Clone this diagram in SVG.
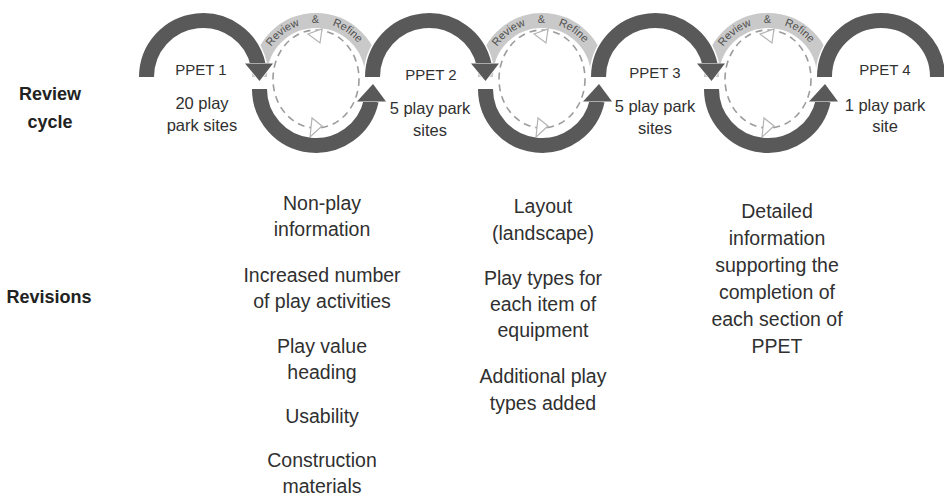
<svg xmlns="http://www.w3.org/2000/svg" xmlns:xlink="http://www.w3.org/1999/xlink" width="944" height="499" viewBox="0 0 944 499">
<defs>
<style>
text{font-family:"Liberation Sans",Arial,sans-serif;fill:#303030;text-anchor:middle}
.lbl{font-size:18px;font-weight:bold;fill:#222}
.ppet{font-size:15px}
.site{font-size:16.5px}
.rev{font-size:19.5px}
.rr{font-size:11px;fill:#505050}
.light{fill:none;stroke:#c9c9c9;stroke-width:15}
.dash{fill:none;stroke:#9c9c9c;stroke-width:1.6;stroke-dasharray:7 5}
.tri{fill:#fff;stroke:#b3b3b3;stroke-width:1.2}
.case{fill:none;stroke:#fff;stroke-width:18}
.arc{fill:none;stroke:#595959;stroke-width:15}
.head{fill:#595959;stroke:#fff;stroke-width:1.2;paint-order:stroke}
</style>
<path id="rrpath" d="M -54 77 A 54 54 0 0 1 54 77"/>
</defs>
<rect width="944" height="499" fill="#fff"/>

<g id="review-loop-1" transform="translate(316,0)">
<path class="light" d="M -56.5 77 A 56.5 56.5 0 0 1 56.5 77"/>
<ellipse class="dash" cx="0" cy="79" rx="43" ry="49"/>
<polygon class="tri" points="-8,34 6,29 4,43"/>
<polygon class="tri" points="6,126 -4,118 -6,137"/>
<text class="rr"><textPath href="#rrpath" xlink:href="#rrpath" startOffset="50">Review</textPath></text>
<text class="rr"><textPath href="#rrpath" xlink:href="#rrpath" startOffset="84">&amp;</textPath></text>
<text class="rr"><textPath href="#rrpath" xlink:href="#rrpath" startOffset="117">Refine</textPath></text>
</g>
<g id="review-loop-2" transform="translate(542,0)">
<path class="light" d="M -56.5 77 A 56.5 56.5 0 0 1 56.5 77"/>
<ellipse class="dash" cx="0" cy="79" rx="43" ry="49"/>
<polygon class="tri" points="-8,34 6,29 4,43"/>
<polygon class="tri" points="6,126 -4,118 -6,137"/>
<text class="rr"><textPath href="#rrpath" xlink:href="#rrpath" startOffset="50">Review</textPath></text>
<text class="rr"><textPath href="#rrpath" xlink:href="#rrpath" startOffset="84">&amp;</textPath></text>
<text class="rr"><textPath href="#rrpath" xlink:href="#rrpath" startOffset="117">Refine</textPath></text>
</g>
<g id="review-loop-3" transform="translate(768,0)">
<path class="light" d="M -56.5 77 A 56.5 56.5 0 0 1 56.5 77"/>
<ellipse class="dash" cx="0" cy="79" rx="43" ry="49"/>
<polygon class="tri" points="-8,34 6,29 4,43"/>
<polygon class="tri" points="6,126 -4,118 -6,137"/>
<text class="rr"><textPath href="#rrpath" xlink:href="#rrpath" startOffset="50">Review</textPath></text>
<text class="rr"><textPath href="#rrpath" xlink:href="#rrpath" startOffset="84">&amp;</textPath></text>
<text class="rr"><textPath href="#rrpath" xlink:href="#rrpath" startOffset="117">Refine</textPath></text>
</g>

<g id="connectors">
<path class="case" d="M 146.5 77 A 56.5 56.5 0 0 1 258.2 65"/>
<path class="case" d="M 372.5 77 A 56.5 56.5 0 0 1 484.2 65"/>
<path class="case" d="M 598.5 77 A 56.5 56.5 0 0 1 710.2 65"/>
<path class="case" d="M 824.5 77 A 56.5 56.5 0 0 1 937.5 77"/>
<path class="arc" d="M 146.5 77 A 56.5 56.5 0 0 1 258.2 65"/>
<path class="arc" d="M 372.5 77 A 56.5 56.5 0 0 1 484.2 65"/>
<path class="arc" d="M 598.5 77 A 56.5 56.5 0 0 1 710.2 65"/>
<path class="arc" d="M 824.5 77 A 56.5 56.5 0 0 1 937.5 77"/>
<polygon class="head" points="245,63.5 273,63.5 259.5,81"/>
<polygon class="head" points="471,63.5 499,63.5 485.5,81"/>
<polygon class="head" points="697,63.5 725,63.5 711.5,81"/>
<path class="arc" d="M 259.5 89 A 56.5 56.5 0 0 0 371.2 101"/>
<path class="arc" d="M 485.5 89 A 56.5 56.5 0 0 0 597.2 101"/>
<path class="arc" d="M 711.5 89 A 56.5 56.5 0 0 0 823.2 101"/>
<polygon class="head" points="357,101.5 386,101.5 373,84"/>
<polygon class="head" points="583,101.5 612,101.5 599,84"/>
<polygon class="head" points="809,101.5 838,101.5 825,84"/>
</g>

<g id="ppet1">
<text class="ppet" x="201" y="75">PPET 1</text>
<text class="site" x="202" y="109">20 play</text>
<text class="site" x="202" y="131">park sites</text>
</g>
<g id="ppet2">
<text class="ppet" x="431" y="80">PPET 2</text>
<text class="site" x="430" y="114">5 play park</text>
<text class="site" x="430" y="136">sites</text>
</g>
<g id="ppet3">
<text class="ppet" x="655" y="78">PPET 3</text>
<text class="site" x="655" y="112">5 play park</text>
<text class="site" x="655" y="134">sites</text>
</g>
<g id="ppet4">
<text class="ppet" x="885" y="75">PPET 4</text>
<text class="site" x="885" y="111">1 play park</text>
<text class="site" x="885" y="132">site</text>
</g>

<g id="row-labels">
<text class="lbl" x="50" y="100">Review</text>
<text class="lbl" x="50" y="128">cycle</text>
<text class="lbl" x="49" y="303">Revisions</text>
</g>

<g id="revisions-1">
<text class="rev" x="322" y="210">Non-play</text>
<text class="rev" x="322" y="236">information</text>
<text class="rev" x="322" y="282">Increased number</text>
<text class="rev" x="322" y="308">of play activities</text>
<text class="rev" x="322" y="353">Play value</text>
<text class="rev" x="322" y="379">heading</text>
<text class="rev" x="322" y="423">Usability</text>
<text class="rev" x="322" y="467">Construction</text>
<text class="rev" x="322" y="493">materials</text>
</g>
<g id="revisions-2">
<text class="rev" x="543" y="213">Layout</text>
<text class="rev" x="543" y="240">(landscape)</text>
<text class="rev" x="543" y="285">Play types for</text>
<text class="rev" x="543" y="311">each item of</text>
<text class="rev" x="543" y="337">equipment</text>
<text class="rev" x="543" y="383">Additional play</text>
<text class="rev" x="543" y="410">types added</text>
</g>
<g id="revisions-3">
<text class="rev" x="777" y="218">Detailed</text>
<text class="rev" x="777" y="245">information</text>
<text class="rev" x="777" y="272">supporting the</text>
<text class="rev" x="777" y="299">completion of</text>
<text class="rev" x="777" y="326">each section of</text>
<text class="rev" x="777" y="353">PPET</text>
</g>
</svg>
